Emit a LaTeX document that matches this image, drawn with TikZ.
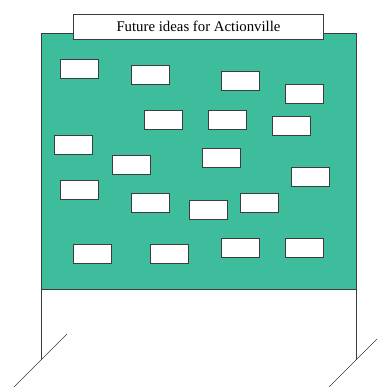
\documentclass[tikz,border=0pt]{standalone}
\usepackage{fontspec}
\setmainfont{Liberation Serif}
\definecolor{boardgreen}{RGB}{61,189,155}
\definecolor{edgegray}{RGB}{60,60,60}
\tikzset{
  card/.style={draw=edgegray, fill=white, line width=0.8pt, inner sep=0pt,
    minimum width=38pt, minimum height=19pt},
  banner/.style={draw=edgegray, fill=white, line width=0.8pt, inner sep=0pt,
    minimum width=250pt, minimum height=25pt, font=\fontsize{14.8}{16}\selectfont},
}
\begin{document}
\begin{tikzpicture}[x=1pt,y=-1pt]
    \useasboundingbox (0,0) rectangle (377,387);

    \coordinate (board_tl) at (41,33);
    \coordinate (board_br) at (356,289);
    \coordinate (foot_l) at (41,360);
    \coordinate (foot_r) at (356,360);

    % Stand legs and ground
    \draw[edgegray, line width=0.8pt] (41,289) -- (foot_l);
    \draw[edgegray, line width=0.8pt] (356,289) -- (foot_r);
    \draw[edgegray, line width=0.6pt] (67,334) -- (14,387);
    \draw[edgegray, line width=0.6pt] (377,339) -- (329,387);

    % Board
    \draw[edgegray, fill=boardgreen, line width=0.8pt] (board_tl) rectangle (board_br);

    % Title
    \node[banner] (title) at (198.5,26.5) {Future ideas for Actionville};

    % Cards
    \foreach \i/\x/\y in {1/79.8/68.5, 2/150.5/74.7, 3/240.2/81.2, 4/304.3/94,
        5/163.3/119.7, 6/227.5/119.7, 7/291.5/126.2, 8/73.7/145.2,
        9/131.3/164.5, 10/221.2/158.2, 11/310.8/177.3, 12/79.8/190.2,
        13/150.5/202.8, 14/208.3/209.5, 15/259.5/202.8, 16/92.8/254.2,
        17/169.7/254.2, 18/240.2/247.7, 19/304.3/247.7}
      \node[card] (card\i) at (\x,\y) {};

\end{tikzpicture}
\end{document}
